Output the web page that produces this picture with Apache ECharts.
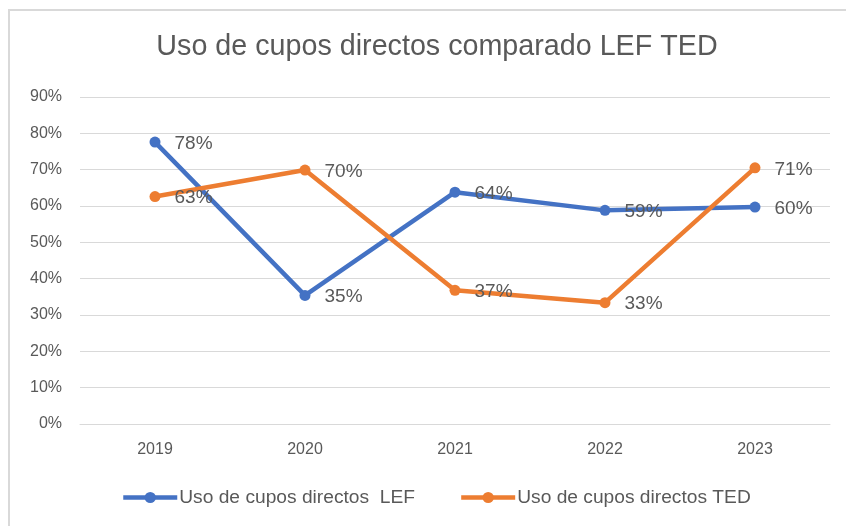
<!DOCTYPE html>
<html>
<head>
<meta charset="utf-8">
<script src="https://cdn.jsdelivr.net/npm/echarts@6/dist/echarts.min.js"></script>
<style>html,body{margin:0;padding:0;background:#fff}#c{width:846px;height:526px}</style>
</head>
<body>
<div id="c"></div>
<script>
var categories = ['2019', '2020', '2021', '2022', '2023'];
var lefValues = [77.6, 35.4, 63.8, 58.8, 59.7];
var tedValues = [62.6, 69.9, 36.8, 33.4, 70.5];
var yTicks = [0, 10, 20, 30, 40, 50, 60, 70, 80, 90];
var seriesNames = ['Uso de cupos directos  LEF', 'Uso de cupos directos TED'];
var titleText = 'Uso de cupos directos comparado LEF TED';

var FONT = 'Liberation Sans, Arial, sans-serif';
var chart = echarts.init(document.getElementById('c'));
function lbl() {
  return {
    show: true, position: 'right', distance: 14, offset: [0, 1.5],
    color: '#595959', fontSize: 19, fontFamily: FONT,
    formatter: function (p) { return Math.round(p.value) + '%'; }
  };
}
chart.setOption({
  animation: false,
  backgroundColor: '#fff',
  graphic: [
    { type: 'rect', shape: { x: 8, y: 9, width: 846, height: 2 }, style: { fill: '#d9d9d9' } },
    { type: 'rect', shape: { x: 8, y: 9, width: 2, height: 526 }, style: { fill: '#d9d9d9' } }
  ],
  title: {
    text: titleText, left: 432, top: 28, textAlign: 'center',
    textStyle: { color: '#595959', fontSize: 28.7, fontWeight: 'normal', fontFamily: FONT }
  },
  legend: {
    data: seriesNames, bottom: 14, left: 116, itemGap: 44, itemWidth: 54, itemHeight: 14,
    lineStyle: { width: 4.5 },
    textStyle: { color: '#595959', fontSize: 19.2, fontFamily: FONT, padding: [0, 0, 0, -3] }
  },
  grid: { left: 80, right: 16, top: 97, bottom: 102 },
  xAxis: {
    type: 'category', data: categories, boundaryGap: true,
    axisLine: { lineStyle: { color: '#d9d9d9', width: 1 } },
    axisTick: { show: false },
    axisLabel: { color: '#595959', fontSize: 16, fontFamily: FONT, margin: 18 }
  },
  yAxis: {
    type: 'value', min: yTicks[0], max: yTicks[yTicks.length - 1], interval: 10,
    axisLine: { show: false }, axisTick: { show: false },
    splitLine: { lineStyle: { color: '#d9d9d9', width: 1 } },
    axisLabel: { color: '#595959', fontSize: 16, fontFamily: FONT, margin: 18, formatter: '{value}%' }
  },
  series: [
    { name: seriesNames[0], type: 'line', data: lefValues, color: '#4472C4',
      lineStyle: { width: 4.5 }, symbol: 'circle', symbolSize: 11, label: lbl() },
    { name: seriesNames[1], type: 'line', data: tedValues, color: '#ED7D31',
      lineStyle: { width: 4.5 }, symbol: 'circle', symbolSize: 11, label: lbl() }
  ]
});
</script>
</body>
</html>
